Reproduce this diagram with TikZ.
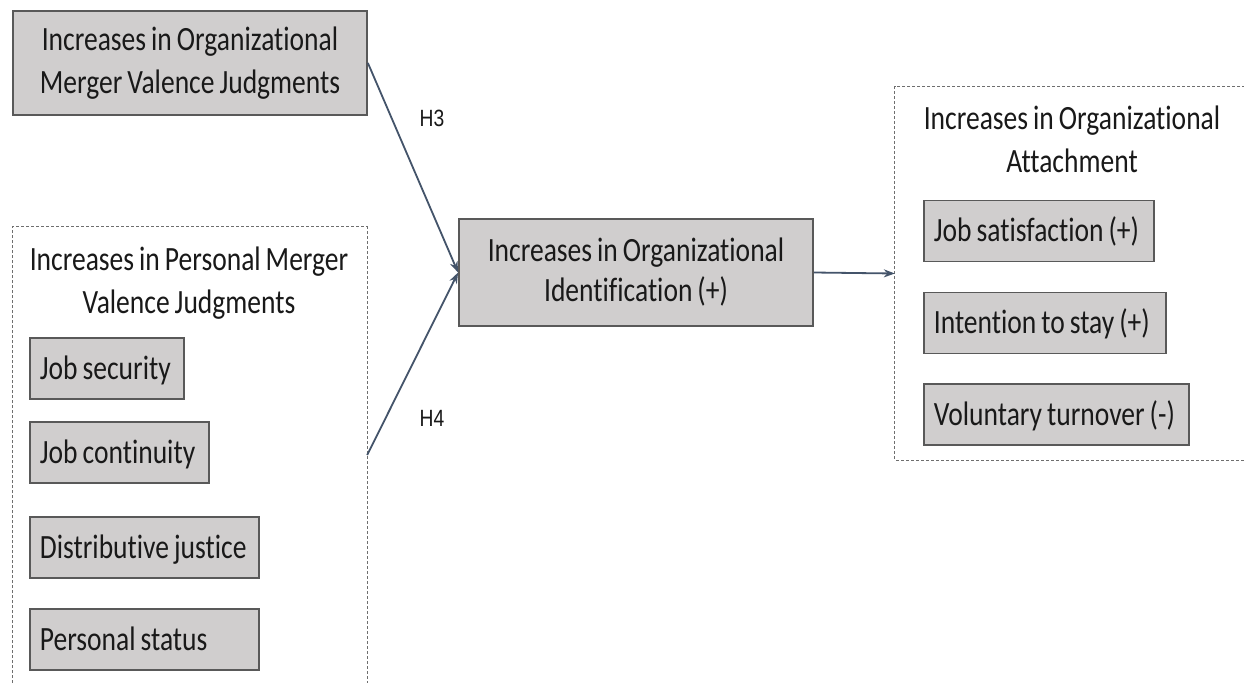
\documentclass[tikz,border=0pt]{standalone}
\usepackage{fontspec}
\setmainfont{Carlito}[FakeStretch=0.81,WordSpace=0.8,Ligatures=NoCommon]
\newfontfamily\labelfont{Liberation Sans}[FakeStretch=0.82]
\usetikzlibrary{arrows.meta}
\definecolor{boxfill}{RGB}{208,206,206}
\definecolor{boxline}{RGB}{89,89,89}
\definecolor{linkcol}{RGB}{68,84,106}
\definecolor{framecol}{RGB}{110,110,110}
\definecolor{inkcol}{RGB}{25,25,25}

\begin{document}
\begin{tikzpicture}[x=1pt,y=-1pt,
  every node/.style={font=\fontsize{34}{43}\selectfont, text=inkcol},
  box/.style={draw=boxline, line width=1.8pt, fill=boxfill, inner sep=0pt, align=center},
  item/.style={draw=boxline, line width=1.8pt, fill=boxfill, anchor=west,
               inner xsep=10pt, inner ysep=0pt,
               minimum height=61pt, text height=21.5pt, text depth=0pt},
  group/.style={inner sep=0pt},
  frameline/.style={draw=framecol, line width=0.9pt, dash pattern=on 3pt off 2pt},
  link/.style={draw=linkcol, line width=1.8pt, -{Stealth[length=11pt,width=8pt]}},
  hyp/.style={font=\labelfont\fontsize{23.5}{26}\selectfont}
]
\useasboundingbox (0,0) rectangle (1244,683);
\fill[white] (0,0) rectangle (1244,683);

% organizational merger valence
\node[box, minimum width=354pt, minimum height=104pt] (org) at (190,63)
  {Increases in Organizational\\Merger Valence Judgments};

% personal merger valence group
\node[group, minimum width=354pt, minimum height=456pt] (pers) at (190,455) {};
\draw[frameline] (pers.south west) -- (pers.north west) -- (pers.north east) -- (pers.south east);
\node[align=center] (perstitle) at (189,283.5)
  {Increases in Personal Merger\\Valence Judgments};
\node[item] (sec)  at (29,368.5) {\makebox[134pt][l]{Job security}};
\node[item] (cont) at (29,452.5) {\makebox[159pt][l]{Job continuity}};
\node[item] (just) at (29,547.5) {\makebox[209pt][l]{Distributive justice}};
\node[item] (stat) at (29,639.5) {\makebox[209pt][l]{Personal status}};

% identification
\node[box, minimum width=354pt, minimum height=107pt,
      font=\fontsize{34}{40}\selectfont] (ident) at (636,272.5)
  {Increases in Organizational\\Identification (+)};

% attachment group
\node[group, minimum width=355pt, minimum height=373pt] (att) at (1072.5,273.5) {};
\draw[frameline] (att.north east) -- (att.north west) -- (att.south west) -- (att.south east);
\node[align=center] (atttitle) at (1072,139.5)
  {Increases in Organizational\\Attachment};
\node[item] (sat)  at (923,231)   {\makebox[210pt][l]{Job satisfaction (+)}};
\node[item] (stay) at (923,323)   {\makebox[222pt][l]{Intention to stay (+)}};
\node[item] (turn) at (923,414.5) {\makebox[245pt][l]{Voluntary turnover (-)}};

% hypotheses
\draw[link] (org.east) -- (ident.west);
\draw[link] (pers.east) -- (ident.west);
\draw[link] (ident.east) -- (att.west);
\node[hyp] (h3) at (432,118) {H3};
\node[hyp] (h4) at (432,418) {H4};
\end{tikzpicture}
\end{document}
